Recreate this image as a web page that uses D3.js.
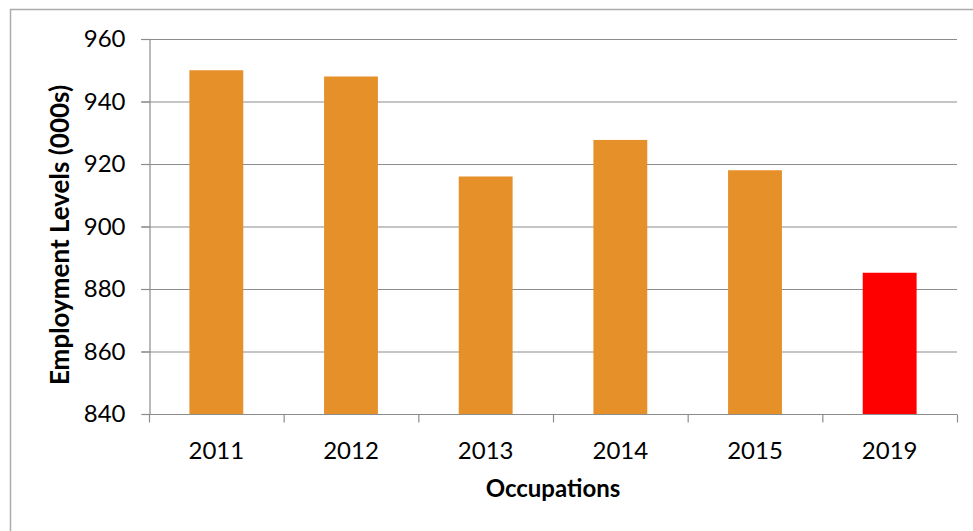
<!DOCTYPE html>
<html>
<head>
<meta charset="utf-8">
<script src="https://cdn.jsdelivr.net/npm/d3@7"></script>
<style>
  body { margin: 0; background: #fff; }
  svg text { font-family: Lato, "Open Sans", sans-serif; fill: #000; }
</style>
</head>
<body>
<div id="chart"></div>
<script>
// Data
const years = ['2011', '2012', '2013', '2014', '2015', '2019'];
const employment = [950, 948, 916, 927.7, 918, 885.2];
const barColors = ['#E69029', '#E69029', '#E69029', '#E69029', '#E69029', '#FF0000'];
const yTicks = [840, 860, 880, 900, 920, 940, 960];

const width = 973, height = 531;
const plotLeft = 149, plotRight = 957, plotTop = 39, plotBottom = 414;

const svg = d3.select('#chart').append('svg')
    .attr('width', width)
    .attr('height', height);

// outer frame
svg.append('rect')
    .attr('x', 10.5).attr('y', 9.5)
    .attr('width', width + 10).attr('height', height + 10)
    .attr('fill', 'none')
    .attr('stroke', '#ababab')
    .attr('stroke-width', 1.5);

const x = d3.scaleBand()
    .domain(years)
    .range([plotLeft, plotRight])
    .paddingInner(0.6)
    .paddingOuter(0.3);

const y = d3.scaleLinear()
    .domain([840, 960])
    .range([plotBottom, plotTop]);

// gridlines
svg.append('g')
    .selectAll('line')
    .data(yTicks.slice(1))
    .join('line')
    .attr('x1', plotLeft - 8).attr('x2', plotRight)
    .attr('y1', d => y(d) + 0.5).attr('y2', d => y(d) + 0.5)
    .attr('stroke', '#8c8c8c')
    .attr('stroke-width', 1.2);

// bars
svg.append('g')
    .selectAll('rect')
    .data(years)
    .join('rect')
    .attr('x', d => x(d))
    .attr('width', x.bandwidth())
    .attr('y', (d, i) => y(employment[i]))
    .attr('height', (d, i) => y(840) - y(employment[i]))
    .attr('fill', (d, i) => barColors[i]);

// y axis
const yAxis = svg.append('g')
    .attr('transform', `translate(${plotLeft + 0.5},0)`)
    .call(d3.axisLeft(y).tickValues(yTicks).tickSize(8).tickPadding(16));
yAxis.selectAll('text').style('font-size', '24px');
yAxis.select('.domain').attr('stroke', '#8c8c8c').attr('stroke-width', 1.2);
yAxis.selectAll('.tick line').attr('stroke', '#8c8c8c').attr('stroke-width', 1.2);

// x axis
const step = (plotRight - plotLeft) / years.length;
const xAxis = svg.append('g')
    .attr('transform', `translate(0,${plotBottom + 0.5})`)
    .call(d3.axisBottom(x).tickSize(0).tickPadding(27));
xAxis.selectAll('text').style('font-size', '24px');
xAxis.select('.domain').attr('d', `M${plotLeft},0H${plotRight}`)
    .attr('stroke', '#8c8c8c').attr('stroke-width', 1.2);
xAxis.selectAll('.sep')
    .data(d3.range(years.length + 1))
    .join('line')
    .attr('class', 'sep')
    .attr('x1', i => plotLeft + i * step + 0.5).attr('x2', i => plotLeft + i * step + 0.5)
    .attr('y1', 0).attr('y2', 8)
    .attr('stroke', '#8c8c8c')
    .attr('stroke-width', 1.2);

// axis titles
svg.append('text')
    .attr('transform', 'translate(69,235) rotate(-90)')
    .attr('text-anchor', 'middle')
    .style('font-size', '26px')
    .style('font-weight', 'bold')
    .text('Employment Levels (000s)');

svg.append('text')
    .attr('x', (plotLeft + plotRight) / 2)
    .attr('y', 497)
    .attr('text-anchor', 'middle')
    .style('font-size', '24px')
    .style('font-weight', 'bold')
    .text('Occupations');
</script>
</body>
</html>
